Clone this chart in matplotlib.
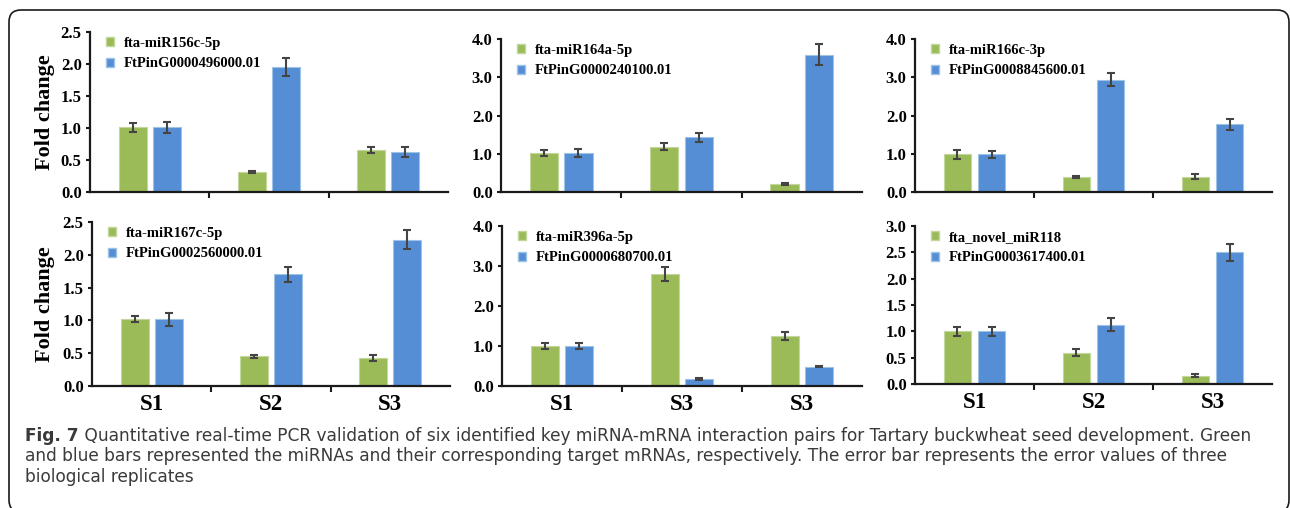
import matplotlib
matplotlib.use("Agg")
import matplotlib.pyplot as plt
from matplotlib.patches import FancyBboxPatch, Patch
from matplotlib.ticker import FixedLocator

# ---- data -------------------------------------------------------------
stages = ["S1", "S2", "S3"]
bottom_stage_labels = [["S1", "S2", "S3"], ["S1", "S3", "S3"], ["S1", "S2", "S3"]]

mirna_names = ["fta-miR156c-5p", "fta-miR164a-5p", "fta-miR166c-3p",
               "fta-miR167c-5p", "fta-miR396a-5p", "fta_novel_miR118"]
target_names = ["FtPinG0000496000.01", "FtPinG0000240100.01", "FtPinG0008845600.01",
                "FtPinG0002560000.01", "FtPinG0000680700.01", "FtPinG0003617400.01"]

mirna_fc = [[1.01, 0.31, 0.66],
            [1.02, 1.18, 0.21],
            [0.99, 0.40, 0.40],
            [1.015, 0.45, 0.43],
            [1.00, 2.80, 1.25],
            [1.00, 0.595, 0.16]]
mirna_err = [[0.065, 0.02, 0.05],
             [0.085, 0.095, 0.02],
             [0.12, 0.03, 0.065],
             [0.045, 0.02, 0.05],
             [0.08, 0.17, 0.10],
             [0.08, 0.065, 0.03]]
target_fc = [[1.01, 1.96, 0.625],
             [1.02, 1.43, 3.59],
             [0.99, 2.94, 1.77],
             [1.015, 1.70, 2.23],
             [1.00, 0.175, 0.485],
             [1.00, 1.125, 2.50]]
target_err = [[0.085, 0.14, 0.085],
              [0.10, 0.12, 0.27],
              [0.09, 0.165, 0.145],
              [0.10, 0.11, 0.145],
              [0.08, 0.02, 0.02],
              [0.09, 0.125, 0.16]]

y_max = [2.5, 4.0, 4.0, 2.5, 4.0, 3.0]
y_step = [0.5, 1.0, 1.0, 0.5, 1.0, 0.5]

caption_bold = "Fig. 7"
caption_lines = [
    " Quantitative real-time PCR validation of six identified key miRNA-mRNA interaction pairs for Tartary buckwheat seed development. Green",
    "and blue bars represented the miRNAs and their corresponding target mRNAs, respectively. The error bar represents the error values of three",
    "biological replicates",
]

# ---- style ------------------------------------------------------------
W, H, DPI = 1290, 508, 100
GREEN = "#9bbb59"
BLUE = "#558ed5"
GREEN_EDGE = "#c3d69b"
BLUE_EDGE = "#9dc3e6"
ERR = "#444444"
AX = "#1a1a1a"
SERIF = ["Liberation Serif", "DejaVu Serif"]
CAP_FONT = ["DejaVu Sans"]

# axes boxes in pixels: left, right, bottom(y=0), top(y=max)
boxes = [(90, 448, 192, 32), (501, 862, 192, 39), (915, 1272, 192, 39),
         (92, 450, 386, 222), (502, 862, 386, 226), (915, 1272, 384, 226)]

fig = plt.figure(figsize=(W / DPI, H / DPI), dpi=DPI)
fig.patch.set_facecolor("white")

bar_w = 0.235
off = 0.143

for i, (l, r, b, t) in enumerate(boxes):
    ax = fig.add_axes([l / W, 1 - b / H, (r - l) / W, (b - t) / H])
    x = range(len(stages))
    gx = [k - off for k in x]
    bx = [k + off for k in x]
    ax.bar(gx, mirna_fc[i], bar_w, color=GREEN, edgecolor=GREEN_EDGE, linewidth=0.8, zorder=2)
    ax.bar(bx, target_fc[i], bar_w, color=BLUE, edgecolor=BLUE_EDGE, linewidth=0.8, zorder=2)
    ax.errorbar(gx, mirna_fc[i], yerr=mirna_err[i], fmt="none", ecolor=ERR,
                elinewidth=1.5, capsize=3, capthick=1.5, zorder=3)
    ax.errorbar(bx, target_fc[i], yerr=target_err[i], fmt="none", ecolor=ERR,
                elinewidth=1.5, capsize=3, capthick=1.5, zorder=3)

    ax.set_xlim(-0.5, len(stages) - 0.5)
    ax.set_ylim(0, y_max[i])
    n = int(round(y_max[i] / y_step[i]))
    yt = [k * y_step[i] for k in range(n + 1)]
    ax.set_yticks(yt)
    ax.set_yticklabels([f"{v:.1f}" for v in yt], fontfamily=SERIF,
                       fontweight="bold", fontsize=12)

    ax.set_xticks(list(x))
    if i >= 3:
        ax.set_xticklabels(bottom_stage_labels[i - 3], fontfamily=SERIF,
                           fontweight="bold", fontsize=16.5)
    else:
        ax.set_xticklabels([])
    ax.xaxis.set_minor_locator(FixedLocator([0.5, 1.5]))
    ax.tick_params(axis="x", which="major", length=0, pad=6)
    ax.tick_params(axis="x", which="minor", length=4, width=1.5, color=AX)
    ax.tick_params(axis="y", length=3, width=1.5, color=AX, pad=3)

    for s in ("top", "right"):
        ax.spines[s].set_visible(False)
    for s in ("left", "bottom"):
        ax.spines[s].set_linewidth(1.6)
        ax.spines[s].set_color(AX)
    ax.patch.set_alpha(0)

    handles = [Patch(facecolor=GREEN, edgecolor=GREEN_EDGE),
               Patch(facecolor=BLUE, edgecolor=BLUE_EDGE)]
    ax.legend(handles, [mirna_names[i], target_names[i]], loc="upper left",
              bbox_to_anchor=(16 / (r - l), 1 - 5 / (b - t)), frameon=False,
              borderpad=0, borderaxespad=0, handlelength=0.55, handleheight=0.55,
              handletextpad=0.7, labelspacing=0.5,
              prop={"family": SERIF, "weight": "bold", "size": 10.5})

    if i % 3 == 0:
        fig.text(45 / W, 1 - (b + t) / 2 / H, "Fold change", rotation=90,
                 ha="center", va="center", fontfamily=SERIF,
                 fontweight="bold", fontsize=16)

# ---- caption ----------------------------------------------------------
CAP_COLOR = "#3a3a3a"
cap_left, cap_right = 25, 1257
cap_y = [436, 456, 477]
renderer = fig.canvas.get_renderer()


def draw_caption(size):
    items = []
    t0 = fig.text(cap_left / W, 1 - cap_y[0] / H, caption_bold, ha="left", va="center",
                  fontfamily=CAP_FONT, fontweight="bold", fontsize=size, color=CAP_COLOR)
    bb = t0.get_window_extent(renderer=renderer)
    t1 = fig.text(bb.x1 / W, 1 - cap_y[0] / H, caption_lines[0], ha="left", va="center",
                  fontfamily=CAP_FONT, fontsize=size, color=CAP_COLOR)
    items += [t0, t1]
    for line, yy in zip(caption_lines[1:], cap_y[1:]):
        items.append(fig.text(cap_left / W, 1 - yy / H, line, ha="left", va="center",
                              fontfamily=CAP_FONT, fontsize=size, color=CAP_COLOR))
    return items, t1.get_window_extent(renderer=renderer).x1


# size the caption so its first line spans the frame interior
size = 11.0
items, right = draw_caption(size)
for it in items:
    it.remove()
size *= (cap_right - cap_left) / (right - cap_left)
draw_caption(size)

# ---- rounded frame ----------------------------------------------------
frame = FancyBboxPatch((9 / DPI, -4 / DPI), (1289 - 9) / DPI, (H - 10 + 4) / DPI,
                       boxstyle="round,pad=0,rounding_size=0.12",
                       transform=fig.dpi_scale_trans, facecolor="none",
                       edgecolor="#1a1a1a", linewidth=1.2, clip_on=False)
fig.add_artist(frame)

fig.savefig("out.png", dpi=DPI, facecolor="white")
